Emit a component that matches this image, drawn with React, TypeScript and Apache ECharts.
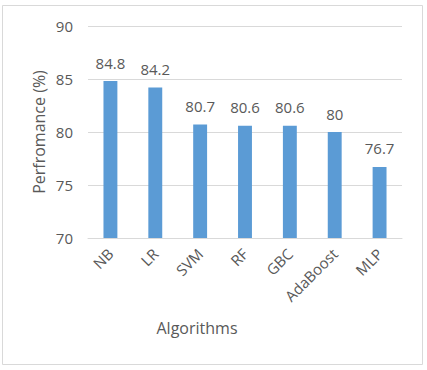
import React, { useEffect, useRef } from "react";
import * as echarts from "echarts";

const categories = ["NB", "LR", "SVM", "RF", "GBC", "AdaBoost", "MLP"];
const values = [84.8, 84.2, 80.7, 80.6, 80.6, 80, 76.7];
const yTicks = { min: 70, max: 90, interval: 5 };
const xTitle = "Algorithms";
const yTitle = "Perfromance (%)";

const FONT = "'Open Sans', sans-serif";
const TEXT = "#595959";

export default function App() {
  const ref = useRef<HTMLDivElement>(null);
  useEffect(() => {
    document.body.style.margin = "0";
    const chart = echarts.init(ref.current!, null, { renderer: "svg" });
    chart.setOption({
      animation: false,
      backgroundColor: "#ffffff",
      grid: { left: 88, right: 25, top: 26, bottom: 132, containLabel: false },
      xAxis: {
        type: "category",
        data: categories,
        axisLine: { lineStyle: { color: "#d9d9d9" } },
        axisTick: { show: false },
        axisLabel: {
          rotate: 45,
          color: TEXT,
          fontFamily: FONT,
          fontSize: 15,
          margin: 13,
          interval: 0,
        },
      },
      yAxis: {
        type: "value",
        min: yTicks.min,
        max: yTicks.max,
        interval: yTicks.interval,
        axisLine: { show: false },
        axisTick: { show: false },
        splitLine: { lineStyle: { color: "#d9d9d9" } },
        axisLabel: { color: TEXT, fontFamily: FONT, fontSize: 15, margin: 15 },
      },
      series: [
        {
          type: "bar",
          data: values,
          barWidth: "31%",
          itemStyle: { color: "#5b9bd5" },
          label: {
            show: true,
            position: "top",
            distance: 11,
            color: TEXT,
            fontFamily: FONT,
            fontSize: 15,
          },
        },
      ],
      graphic: [
        {
          type: "rect",
          shape: { x: 2.5, y: 5.5, width: 420, height: 359 },
          style: { fill: "none", stroke: "#d9d9d9", lineWidth: 1 },
          silent: true,
        },
        {
          type: "text",
          x: 197,
          y: 328,
          style: {
            text: xTitle,
            fill: TEXT,
            font: `16px ${FONT}`,
            textAlign: "center",
            textVerticalAlign: "middle",
          },
        },
        {
          type: "text",
          x: 39,
          y: 132,
          rotation: Math.PI / 2,
          style: {
            text: yTitle,
            fill: TEXT,
            font: `16px ${FONT}`,
            textAlign: "center",
            textVerticalAlign: "middle",
          },
        },
      ],
    });
    return () => chart.dispose();
  }, []);
  return (
    <div
      ref={ref}
      style={{ width: 427, height: 370, position: "absolute", left: 0, top: 0 }}
    />
  );
}
